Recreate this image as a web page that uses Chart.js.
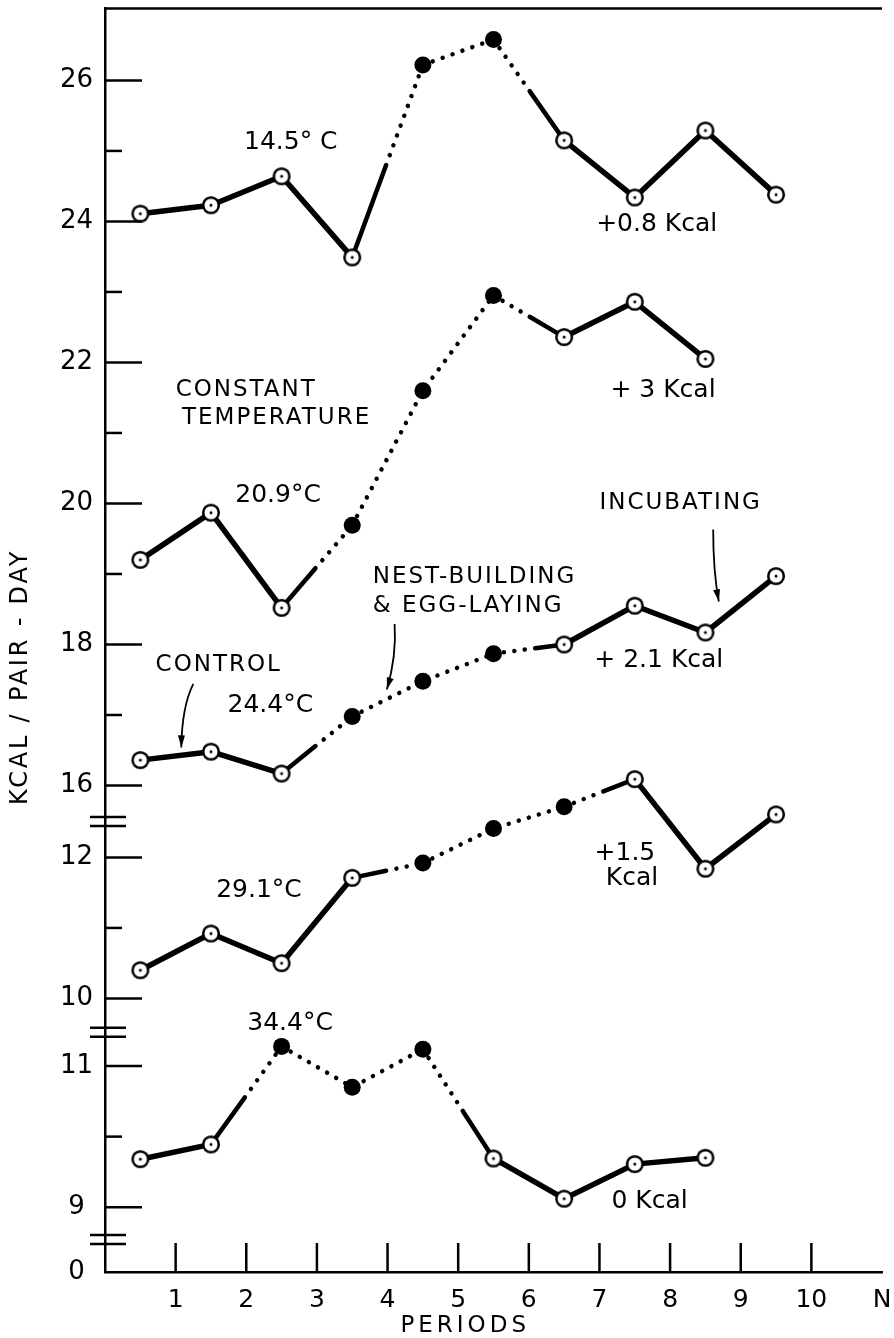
<!DOCTYPE html>
<html>
<head>
<meta charset="utf-8">
<title>Kcal / pair-day by period</title>
<script src="https://cdn.jsdelivr.net/npm/chart.js@4/dist/chart.umd.min.js"></script>
<style>
  html, body { margin: 0; padding: 0; background: #fff; }
  #chart { display: block; }
</style>
</head>
<body>
<canvas id="chart" width="894" height="1338"></canvas>
<script>
// periods (x) and tick labels
const periods = [0.5, 1.5, 2.5, 3.5, 4.5, 5.5, 6.5, 7.5, 8.5, 9.5];
const xTickValues = [1, 2, 3, 4, 5, 6, 7, 8, 9, 10, 11];
const xTickLabels = ['1', '2', '3', '4', '5', '6', '7', '8', '9', '10', 'N'];

// broken y axis: three pieces plus the zero at the bottom
const yLabelsLow = [9, 11];
const yMinorLow = [10];
const yLabelsMid = [10, 12];
const yMinorMid = [11];
const yLabelsTop = [16, 18, 20, 22, 24, 26];
const yMinorTop = [17, 19, 21, 23, 25];

// kcal / pair-day, 1 = nest-building & egg-laying (filled dot)
const kcal145 = [24.11, 24.23, 24.64, 23.49, 26.22, 26.58, 25.15, 24.34, 25.29, 24.38];
const laying145 = [0, 0, 0, 0, 1, 1, 0, 0, 0, 0];
const kcal209 = [19.20, 19.87, 18.52, 19.69, 21.60, 22.95, 22.36, 22.86, 22.05];
const laying209 = [0, 0, 0, 1, 1, 1, 0, 0, 0];
const kcal244 = [16.36, 16.48, 16.17, 16.98, 17.48, 17.87, 18.00, 18.55, 18.17, 18.97];
const laying244 = [0, 0, 0, 1, 1, 1, 0, 0, 0, 0];
const kcal291 = [10.40, 10.92, 10.50, 11.71, 11.92, 12.41, 12.72, 13.11, 11.84, 12.61];
const laying291 = [0, 0, 0, 0, 1, 1, 1, 0, 0, 0];
const kcal344 = [9.68, 9.89, 11.28, 10.70, 11.24, 9.69, 9.12, 9.61, 9.70];
const laying344 = [0, 0, 1, 1, 1, 0, 0, 0, 0];

const series = [
  { sec: 'top', kcal: kcal145, laying: laying145 },
  { sec: 'top', kcal: kcal209, laying: laying209 },
  { sec: 'top', kcal: kcal244, laying: laying244 },
  { sec: 'mid', kcal: kcal291, laying: laying291 },
  { sec: 'low', kcal: kcal344, laying: laying344 },
];

// each piece of the axis is shifted onto one continuous linear scale
const SHIFT = { low: 8.08, mid: 6.12, top: 9.1 };
const toAxis = (sec, v) => v - SHIFT[sec];

// text on the plot, placed in axis units
const notes = [
  { text: '14.5° C', x: 2.63, y: 25.12, sec: 'top' },
  { text: '+0.8 Kcal', x: 7.81, y: 23.96, sec: 'top' },
  { text: '+ 3 Kcal', x: 7.90, y: 21.6, sec: 'top' },
  { text: 'CONSTANT', x: 1.0, y: 21.61, sec: 'top', align: 'left', spaced: true },
  { text: 'TEMPERATURE', x: 1.09, y: 21.21, sec: 'top', align: 'left', spaced: true },
  { text: '20.9°C', x: 2.45, y: 20.11, sec: 'top' },
  { text: 'NEST-BUILDING', x: 3.79, y: 18.96, sec: 'top', align: 'left', spaced: true },
  { text: '& EGG-LAYING', x: 3.79, y: 18.54, sec: 'top', align: 'left', spaced: true },
  { text: 'INCUBATING', x: 8.15, y: 20.01, sec: 'top', spaced: true },
  { text: 'CONTROL', x: 1.61, y: 17.71, sec: 'top', spaced: true },
  { text: '24.4°C', x: 2.34, y: 17.13, sec: 'top' },
  { text: '+ 2.1 Kcal', x: 7.84, y: 17.77, sec: 'top' },
  { text: '29.1°C', x: 2.18, y: 11.53, sec: 'mid' },
  { text: '+1.5', x: 7.36, y: 12.06, sec: 'mid' },
  { text: 'Kcal', x: 7.46, y: 11.70, sec: 'mid' },
  { text: '34.4°C', x: 2.62, y: 11.61, sec: 'low' },
  { text: '0 Kcal', x: 7.71, y: 9.08, sec: 'low' },
];

// arrows: start, bend, tip
const arrows = [
  { sec: 'top', from: [4.10, 18.29], bend: [4.13, 17.83], to: [3.99, 17.36] },
  { sec: 'top', from: [8.61, 19.63], bend: [8.61, 19.03], to: [8.69, 18.61] },
  { sec: 'top', from: [1.25, 17.44], bend: [1.09, 17.12], to: [1.08, 16.54] },
];

const yTicks = [{ value: 0, label: '0' }]
  .concat(yLabelsLow.map(v => ({ value: toAxis('low', v), label: String(v) })))
  .concat(yLabelsMid.map(v => ({ value: toAxis('mid', v), label: String(v) })))
  .concat(yLabelsTop.map(v => ({ value: toAxis('top', v), label: String(v) })))
  .sort((a, b) => a.value - b.value);

const minorTicks = yMinorLow.map(v => toAxis('low', v))
  .concat(yMinorMid.map(v => toAxis('mid', v)))
  .concat(yMinorTop.map(v => toAxis('top', v)));

function openMarker() {
  const c = document.createElement('canvas');
  c.width = 22; c.height = 22;
  const g = c.getContext('2d');
  g.beginPath(); g.arc(11, 11, 7.8, 0, Math.PI * 2);
  g.fillStyle = '#fff'; g.fill();
  g.lineWidth = 2.5; g.strokeStyle = '#000'; g.stroke();
  g.beginPath(); g.arc(11, 11, 1.5, 0, Math.PI * 2);
  g.fillStyle = '#000'; g.fill();
  return c;
}
const openDot = openMarker();

// solid between open dots, dotted between filled ones, half/half in between
function dashFor(a, b, L) {
  if (a && b) return [0.01, 10.5];
  if (!a && !b) return [];
  const arr = [];
  if (!a && b) {
    arr.push(L * 0.48, 10.5);
    for (let d = L * 0.48; d < L + 30; d += 10.5) arr.push(0.01, 10.49);
  } else {
    for (let d = 0; d < L * 0.5; d += 10.5) arr.push(0.01, 10.49);
    arr.push(L + 20, 0);
  }
  return arr;
}

const datasets = series.map((s) => ({
  data: s.kcal.map((v, i) => ({ x: periods[i], y: toAxis(s.sec, v) })),
  borderColor: '#000',
  borderWidth: 5.5,
  borderCapStyle: 'round',
  borderJoinStyle: 'round',
  tension: 0,
  fill: false,
  pointStyle: (c) => (s.laying[c.dataIndex] ? 'circle' : openDot),
  pointRadius: 8.5,
  pointBackgroundColor: '#000',
  pointBorderWidth: 0,
  segment: {
    borderDash: (c) => {
      const L = Math.hypot(c.p1.x - c.p0.x, c.p1.y - c.p0.y);
      return dashFor(s.laying[c.p0DataIndex], s.laying[c.p1DataIndex], L);
    },
    borderWidth: (c) => (s.laying[c.p0DataIndex] || s.laying[c.p1DataIndex] ? 4.5 : 5.5),
  },
}));

const extras = {
  id: 'extras',
  afterDraw(chart) {
    const { ctx, chartArea: a, scales: { x, y } } = chart;
    const px = (v) => x.getPixelForValue(v);
    const py = (sec, v) => y.getPixelForValue(toAxis(sec, v));
    const seg = (x1, y1, x2, y2) => { ctx.beginPath(); ctx.moveTo(x1, y1); ctx.lineTo(x2, y2); ctx.stroke(); };
    ctx.save();
    ctx.strokeStyle = '#000';
    ctx.fillStyle = '#000';
    ctx.lineWidth = 2.5;

    seg(a.left, a.top, a.right, a.top);

    // inward ticks
    yTicks.filter(t => t.value > 0).forEach(t => {
      const yy = y.getPixelForValue(t.value);
      seg(a.left, yy, a.left + 37, yy);
    });
    minorTicks.forEach(v => {
      const yy = y.getPixelForValue(v);
      seg(a.left, yy, a.left + 17, yy);
    });
    xTickValues.slice(0, 10).forEach(v => seg(px(v), a.bottom, px(v), a.bottom - 29));

    // axis breaks
    [[toAxis('mid', 12), toAxis('top', 16)], [toAxis('low', 11), toAxis('mid', 10)], [0, toAxis('low', 9)]]
      .forEach(([lo, hi]) => {
        const c = y.getPixelForValue((lo + hi) / 2);
        seg(a.left - 15, c - 4.5, a.left + 21, c - 4.5);
        seg(a.left - 15, c + 4.5, a.left + 21, c + 4.5);
      });

    // notes
    ctx.textBaseline = 'middle';
    notes.forEach(n => {
      ctx.font = n.spaced ? '23px "DejaVu Sans"' : '25px "DejaVu Sans"';
      ctx.letterSpacing = n.spaced ? '2px' : '0px';
      ctx.textAlign = n.align || 'center';
      ctx.fillText(n.text, px(n.x), py(n.sec, n.y));
    });

    // arrows
    ctx.lineWidth = 1.8;
    arrows.forEach(ar => {
      const p0 = [px(ar.from[0]), py(ar.sec, ar.from[1])];
      const p1 = [px(ar.bend[0]), py(ar.sec, ar.bend[1])];
      const p2 = [px(ar.to[0]), py(ar.sec, ar.to[1])];
      ctx.beginPath();
      ctx.moveTo(p0[0], p0[1]);
      ctx.quadraticCurveTo(p1[0], p1[1], p2[0], p2[1]);
      ctx.stroke();
      const ang = Math.atan2(p2[1] - p1[1], p2[0] - p1[0]);
      ctx.beginPath();
      ctx.moveTo(p2[0], p2[1]);
      ctx.lineTo(p2[0] - 12 * Math.cos(ang) + 3.5 * Math.sin(ang), p2[1] - 12 * Math.sin(ang) - 3.5 * Math.cos(ang));
      ctx.lineTo(p2[0] - 12 * Math.cos(ang) - 3.5 * Math.sin(ang), p2[1] - 12 * Math.sin(ang) + 3.5 * Math.cos(ang));
      ctx.closePath();
      ctx.fill();
    });

    // axis titles
    ctx.font = '23px "DejaVu Sans"';
    ctx.textAlign = 'center';
    ctx.letterSpacing = '4px';
    ctx.fillText('PERIODS', px(5.1), a.bottom + 54);
    ctx.save();
    ctx.translate(21, py('top', 17.54));
    ctx.rotate(-Math.PI / 2);
    ctx.font = '24px "DejaVu Sans"';
    ctx.letterSpacing = '2.8px';
    ctx.fillText('KCAL / PAIR - DAY', 0, 0);
    ctx.restore();
    ctx.restore();
  },
};

Chart.defaults.font.family = '"DejaVu Sans"';
Chart.defaults.color = '#000';

new Chart(document.getElementById('chart').getContext('2d'), {
  type: 'line',
  data: { datasets },
  options: {
    responsive: false,
    animation: false,
    layout: { padding: { top: 7, right: 12, bottom: 0, left: 0 } },
    plugins: { legend: { display: false }, tooltip: { enabled: false } },
    scales: {
      x: {
        type: 'linear',
        min: 0,
        max: 11,
        bounds: 'data',
        grid: { display: false, drawTicks: false },
        border: { display: true, color: '#000', width: 2.5 },
        afterBuildTicks: (s) => { s.ticks = xTickValues.map(v => ({ value: v })); },
        afterFit: (s) => { s.height = 66; s.paddingLeft = 0; s.paddingRight = 0; },
        ticks: {
          autoSkip: false,
          maxRotation: 0,
          padding: 13,
          font: { size: 25 },
          callback: (v, i) => xTickLabels[i],
        },
      },
      y: {
        type: 'linear',
        min: 0,
        max: 17.92,
        bounds: 'data',
        grid: { display: false, drawTicks: false },
        border: { display: true, color: '#000', width: 2.5 },
        afterBuildTicks: (s) => { s.ticks = yTicks.map(t => ({ value: t.value })); },
        afterFit: (s) => { s.width = 105; s.paddingTop = 0; s.paddingBottom = 0; },
        ticks: {
          autoSkip: false,
          crossAlign: 'center',
          padding: 12,
          font: { size: 26 },
          callback: (v, i) => yTicks[i].label,
        },
      },
    },
  },
  plugins: [extras],
});
</script>
</body>
</html>
